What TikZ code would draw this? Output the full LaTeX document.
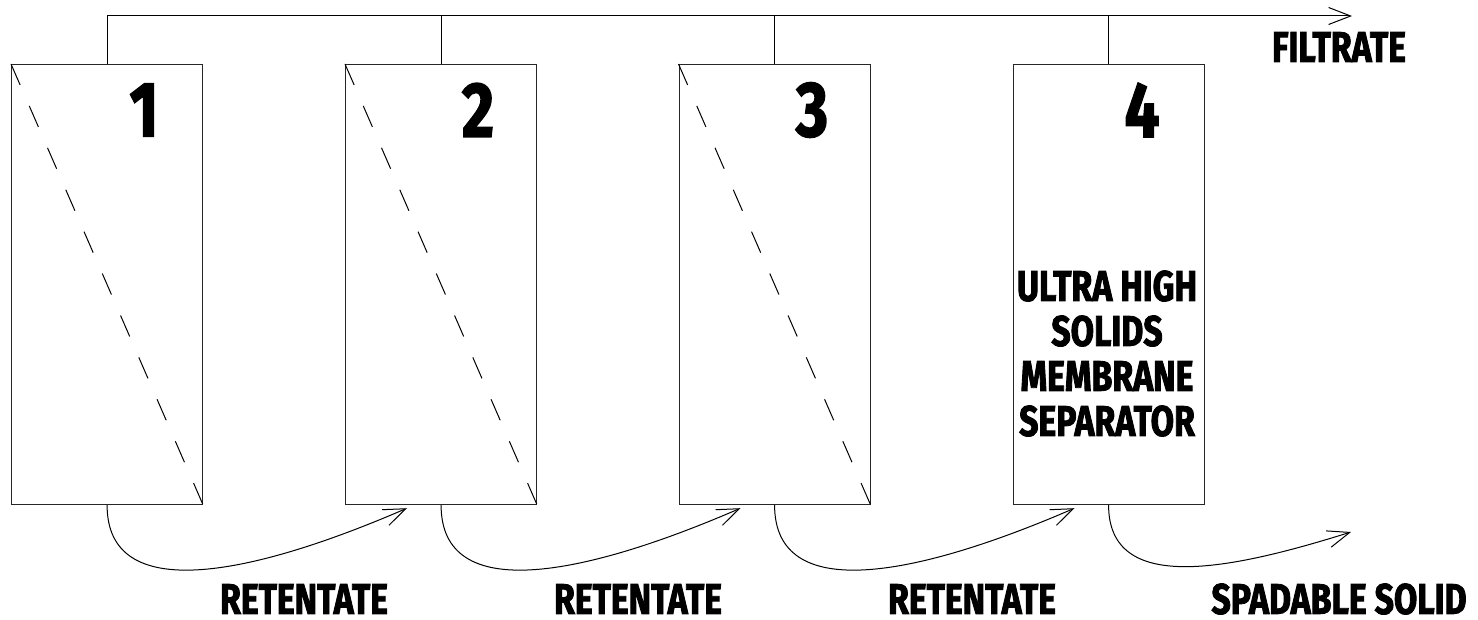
\documentclass[tikz,border=0pt]{standalone}
\usepackage{fontspec}
\newfontfamily\cf[FakeStretch=0.79,FakeBold=2]{Fira Sans}
\usetikzlibrary{arrows.meta,calc}
\begin{document}
\begin{tikzpicture}[x=1pt,y=-1pt,
  line width=1.2pt,
  sep/.style={draw=black!85, rectangle, minimum width=191pt, minimum height=440pt, anchor=north west, inner sep=0pt},
  diag/.style={draw=black, line width=1pt, dash pattern=on 22.86pt off 22.86pt},
  flow/.style={draw=black, line width=1pt, -{Straight Barb[length=22pt,width=17pt,line width=1pt]}},
  lbl/.style={font=\cf\bfseries\fontsize{42.8}{45}\selectfont, inner sep=0pt, text=black},
  num/.style={font=\cf\bfseries\fontsize{78}{80}\selectfont, inner sep=0pt, text=black}]
\useasboundingbox (0,0) rectangle (1478,620);
\node[sep] (b1) at (11,64) {};
\node[sep] (b2) at (345,64) {};
\node[sep] (b3) at (678.5,64) {};
\node[sep] (b4) at (1012.5,64) {};
% numbers
\node[num] (n1) at (144,110) {1};
\node[num] (n2) at (478,110) {2};
\node[num] (n3) at (812,110) {3};
\node[num] (n4) at (1142,110) {4};
% dashed diagonals
\draw[diag] (b1.north west) -- (b1.south east);
\draw[diag] (b2.north west) -- (b2.south east);
\draw[diag] (b3.north west) -- (b3.south east);
% box 4 text
\node[lbl, align=center] (t4) at (1107,353.5) {ULTRA HIGH\\SOLIDS\\MEMBRANE\\SEPARATOR};
% filtrate header
\coordinate (h1) at ($(b1.north)+(0,-48)$);
\coordinate (h2) at ($(b2.north)+(0,-48)$);
\coordinate (h3) at ($(b3.north)+(0,-48)$);
\coordinate (h4) at ($(b4.north)+(0,-48)$);
\coordinate (fend) at (1352,16);
\draw[line width=1pt] (b1.north) -- (h1);
\draw[line width=1pt] (b2.north) -- (h2);
\draw[line width=1pt] (b3.north) -- (h3);
\draw[line width=1pt] (b4.north) -- (h4);
\draw[flow] (h1) -- (fend);
\node[lbl] (filt) at (1339,47) {FILTRATE};
% retentate arrows
\coordinate (r2) at ($(b2.south west)+(62,3)$);
\coordinate (r3) at ($(b3.south west)+(62,3)$);
\coordinate (r4) at ($(b4.south west)+(62,3)$);
\coordinate (sp) at (1351,532);
\draw[flow] (b1.south) .. controls ($(b1.south)+(0,100)$) and ($(r2)+(-157,68)$) .. (r2);
\draw[flow] (b2.south) .. controls ($(b2.south)+(0,100)$) and ($(r3)+(-157,68)$) .. (r3);
\draw[flow] (b3.south) .. controls ($(b3.south)+(0,100)$) and ($(r4)+(-157,68)$) .. (r4);
\draw[flow] (b4.south) .. controls ($(b4.south)+(0,90)$) and ($(sp)+(-121,38)$) .. (sp);
\node[lbl] (l1) at (304,599) {RETENTATE};
\node[lbl] (l2) at (638,599) {RETENTATE};
\node[lbl] (l3) at (972,599) {RETENTATE};
\node[lbl] (l4) at (1339,599) {SPADABLE SOLID};
\end{tikzpicture}
\end{document}
